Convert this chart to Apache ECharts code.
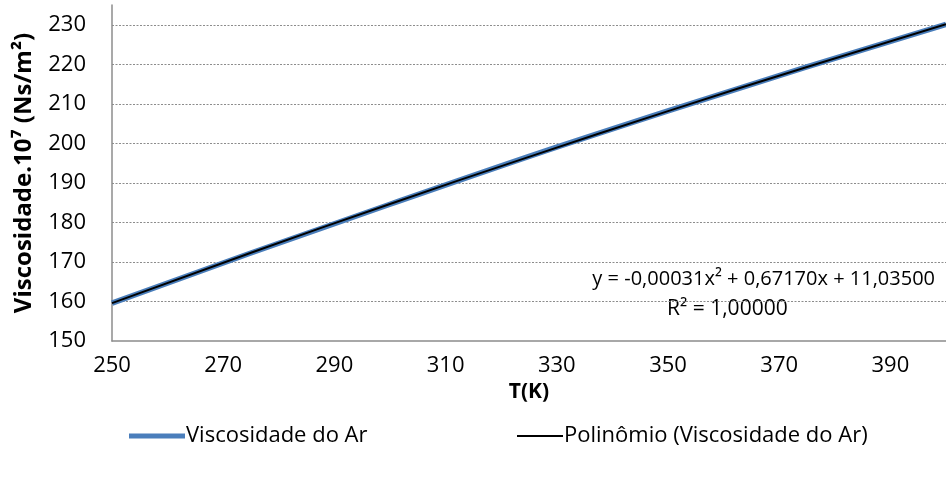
<!DOCTYPE html>
<html>
<head>
<meta charset="utf-8">
<script src="https://cdn.jsdelivr.net/npm/echarts@6/dist/echarts.min.js"></script>
<style>
  html, body { margin: 0; padding: 0; background: #fff; }
  #chart { width: 946px; height: 478px; }
</style>
</head>
<body>
<div id="chart"></div>
<script>
// Air viscosity (x10^7 N.s/m^2) against temperature (K)
const temperatures = [250, 300, 350, 400];
const viscosity = [159.6, 184.6, 208.2, 230.1];

// Second-order polynomial trendline sampled along the temperature range
const trendTemps = [250, 275, 300, 325, 350, 375, 400];
const trendValues = [159.59, 172.31, 184.65, 196.59, 208.16, 219.33, 230.12];

const xTicks = [250, 270, 290, 310, 330, 350, 370, 390];
const yTicks = [150, 160, 170, 180, 190, 200, 210, 220, 230];

const seriesNames = ['Viscosidade do Ar', 'Polinômio (Viscosidade do Ar)'];
const equationText = 'y = -0,00031x² + 0,67170x + 11,03500';
const r2Text = 'R² = 1,00000';

const FONT = '"Open Sans", "Noto Sans", sans-serif';
const BLUE = '#4a7ebb';

const chart = echarts.init(document.getElementById('chart'), null, { renderer: 'canvas' });

const pair = (xs, ys) => xs.map((x, i) => [x, ys[i]]);

chart.setOption({
  animation: false,
  backgroundColor: '#ffffff',
  grid: { left: 112, right: 0, top: 5, bottom: 137, containLabel: false },
  legend: [
    {
      data: [{ name: seriesNames[0], icon: 'rect' }],
      left: 124, top: 420,
      itemWidth: 56, itemHeight: 5,
      itemGap: 0,
      textStyle: { fontFamily: FONT, fontSize: 22, color: '#000', padding: [0, 0, 0, -4] }
    },
    {
      data: [{ name: seriesNames[1], icon: 'rect' }],
      left: 512, top: 420,
      itemWidth: 46, itemHeight: 2,
      textStyle: { fontFamily: FONT, fontSize: 22, color: '#000', padding: [0, 0, 0, -4] }
    }
  ],
  xAxis: {
    type: 'value',
    min: 250, max: 400, interval: 20,
    name: 'T(K)',
    nameLocation: 'middle',
    nameGap: 38,
    nameTextStyle: { fontFamily: FONT, fontSize: 21, fontWeight: 'bold', color: '#000' },
    axisLine: { show: true, lineStyle: { color: '#8c8c8c', width: 1.5 } },
    axisTick: { show: false },
    splitLine: { show: false },
    axisLabel: {
      fontFamily: FONT, fontSize: 22, color: '#000', margin: 14,
      showMaxLabel: false,
      formatter: v => (xTicks.indexOf(v) >= 0 ? String(v) : '')
    }
  },
  yAxis: {
    type: 'value',
    min: 150, max: 235, interval: 10,
    name: 'Viscosidade.10⁷ (Ns/m²)',
    nameLocation: 'middle',
    nameGap: 76,
    nameRotate: 90,
    nameTextStyle: { fontFamily: FONT, fontSize: 24, fontWeight: 'bold', color: '#000' },
    axisLine: { show: true, lineStyle: { color: '#8c8c8c', width: 1.5 } },
    axisTick: { show: false },
    axisLabel: {
      fontFamily: FONT, fontSize: 22, color: '#000', margin: 26,
      showMaxLabel: false,
      formatter: v => (yTicks.indexOf(v) >= 0 ? String(v) : '')
    },
    splitLine: {
      show: true,
      showMinLine: false,
      showMaxLine: false,
      lineStyle: { color: '#8c8c8c', width: 1, type: [2, 1.5] }
    }
  },
  series: [
    {
      name: seriesNames[0],
      type: 'line',
      data: pair(temperatures, viscosity),
      smooth: true,
      symbol: 'none',
      lineStyle: { color: BLUE, width: 5.5 },
      itemStyle: { color: BLUE },
      z: 2
    },
    {
      name: seriesNames[1],
      type: 'line',
      data: pair(trendTemps, trendValues),
      smooth: true,
      symbol: 'none',
      lineStyle: { color: '#000000', width: 2 },
      itemStyle: { color: '#000000' },
      z: 3
    }
  ],
  graphic: [
    {
      type: 'text', right: 11, top: 269,
      style: { text: equationText, font: '20px ' + FONT, fill: '#000', textAlign: 'right' }
    },
    {
      type: 'text', left: 667, top: 299,
      style: { text: r2Text, font: '21px ' + FONT, fill: '#000' }
    }
  ]
});
</script>
</body>
</html>
